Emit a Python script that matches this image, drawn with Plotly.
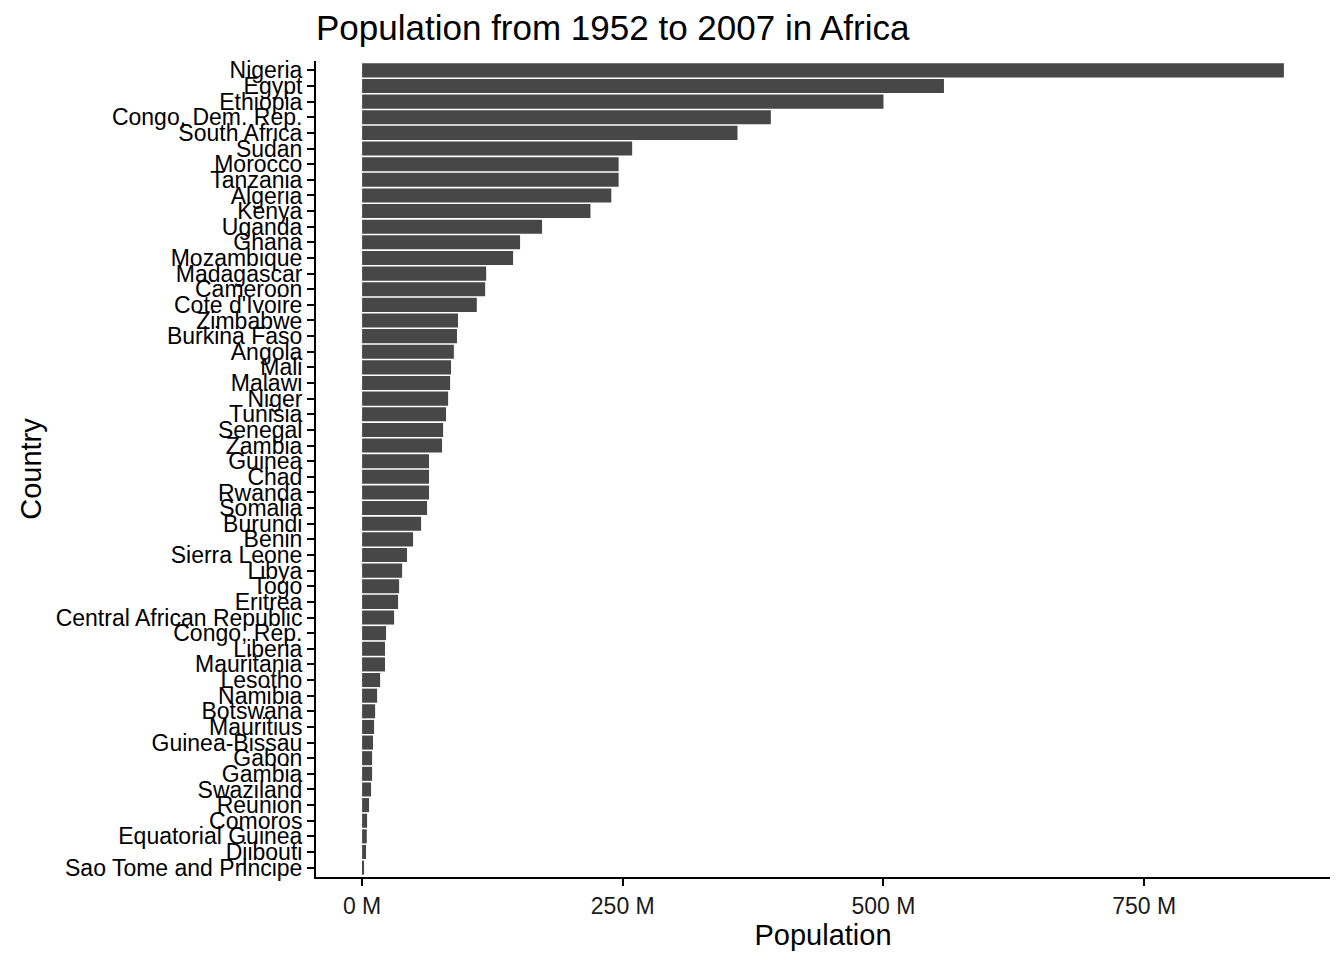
import plotly.graph_objects as go

# countries, top to bottom as drawn
countries = ['Nigeria', 'Egypt', 'Ethiopia', 'Congo, Dem. Rep.', 'South Africa',
             'Sudan', 'Morocco', 'Tanzania', 'Algeria', 'Kenya',
             'Uganda', 'Ghana', 'Mozambique', 'Madagascar', 'Cameroon',
             "Cote d'Ivoire", 'Zimbabwe', 'Burkina Faso', 'Angola', 'Mali',
             'Malawi', 'Niger', 'Tunisia', 'Senegal', 'Zambia',
             'Guinea', 'Chad', 'Rwanda', 'Somalia', 'Burundi',
             'Benin', 'Sierra Leone', 'Libya', 'Togo', 'Eritrea',
             'Central African Republic', 'Congo, Rep.', 'Liberia', 'Mauritania', 'Lesotho',
             'Namibia', 'Botswana', 'Mauritius', 'Guinea-Bissau', 'Gabon',
             'Gambia', 'Swaziland', 'Reunion', 'Comoros', 'Equatorial Guinea',
             'Djibouti', 'Sao Tome and Principe']

# summed population 1952-2007, millions
population = [884, 558, 500, 392, 360,
              259, 246, 246, 239, 219,
              172.6, 151.5, 144.8, 119, 118,
              110, 92, 91, 88, 85.3,
              84.4, 82.5, 80.5, 77.7, 76.7,
              64.2, 64.2, 64.2, 62.3, 56.6,
              48.9, 43.1, 38.4, 35.5, 34.5,
              30.7, 23, 22, 22, 17.3,
              14.4, 12.5, 11.5, 10.5, 9.6,
              9.6, 8.6, 6.7, 4.8, 4.5,
              3.8, 1.9]

x_ticks = [0, 250, 500, 750]
x_labels = ['0 M', '250 M', '500 M', '750 M']

fig = go.Figure(go.Bar(
    x=population,
    y=countries,
    orientation='h',
    marker=dict(color='#474747', line=dict(width=0)),
    width=0.9,
))

# page body has an 8px margin, so offsets are shifted by 8
fig.update_layout(
    width=1344, height=960,
    paper_bgcolor='white', plot_bgcolor='white',
    margin=dict(l=308, r=22, t=53, b=91),
    font=dict(family='Liberation Sans, Arial, sans-serif', color='black'),
    title=dict(text='Population from 1952 to 2007 in Africa',
               x=308 / 1344, xanchor='left', y=1 - 20 / 960, yanchor='middle',
               font=dict(size=35, color='black')),
    showlegend=False,
    bargap=0.1,
)

fig.update_xaxes(
    range=[-44.2, 928.2],
    tickmode='array', tickvals=x_ticks, ticktext=x_labels,
    ticks='outside', ticklen=7, tickwidth=2, tickcolor='black',
    showline=True, linecolor='black', linewidth=2,
    showgrid=False, zeroline=False,
    tickfont=dict(size=23, color='#1a1a1a'),
    title=dict(text='Population', font=dict(size=29), standoff=2),
)

fig.update_yaxes(
    type='category',
    categoryorder='array', categoryarray=countries,
    tickmode='array', tickvals=countries, ticktext=countries,
    range=[len(countries) - 0.4, -0.6],
    ticks='outside', ticklen=7, tickwidth=2, tickcolor='black',
    showline=True, linecolor='black', linewidth=2,
    showgrid=False, zeroline=False,
    tickfont=dict(size=23, color='black'),
    title=dict(text='Country', font=dict(size=29), standoff=6),
)

fig.write_html("out.html")
